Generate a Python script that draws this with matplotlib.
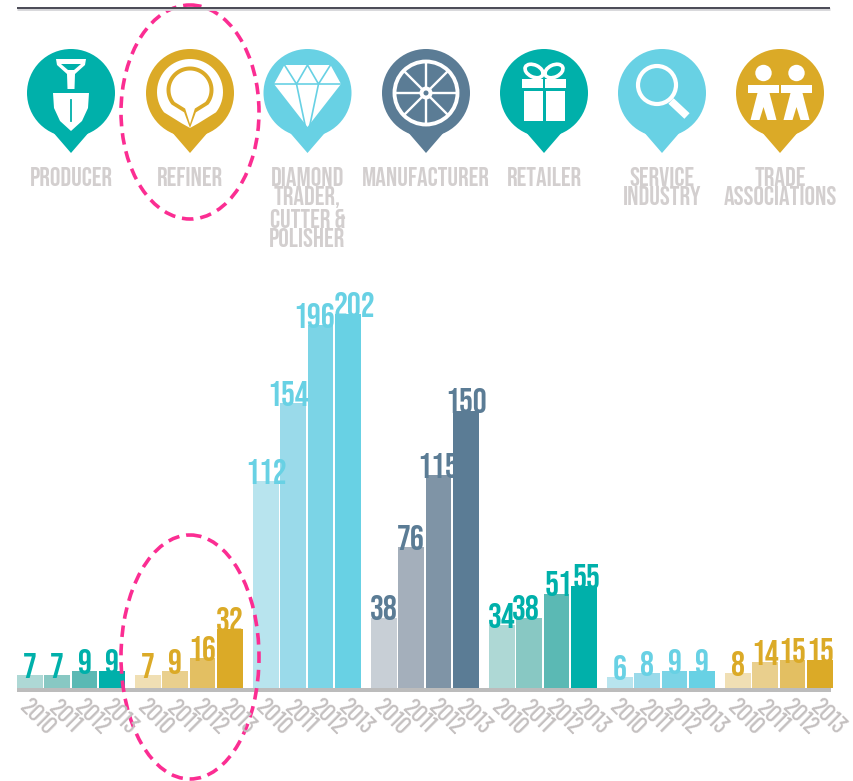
import numpy as np
import matplotlib
matplotlib.use('Agg')
import matplotlib.pyplot as plt
from matplotlib import font_manager as fm
from matplotlib.patches import Circle, Ellipse, Polygon, Rectangle

# pick condensed faces that exist here, DejaVu stays as last resort
installed = set(f.name for f in fm.fontManager.ttflist)
tall_font = [n for n in ['Bebas Neue', 'League Gothic', 'Sofia Sans Extra Condensed', 'Saira ExtraCondensed',
                         'Fira Sans Extra Condensed'] if n in installed] + ['DejaVu Sans']
year_font = [n for n in ['Barlow Condensed', 'Roboto Condensed'] if n in installed] + ['DejaVu Sans']
plt.rcParams['font.family'] = tall_font

years = ['2010', '2011', '2012', '2013']
group_names = ['PRODUCER', 'REFINER', 'DIAMOND\nTRADER,\nCUTTER &\nPOLISHER', 'MANUFACTURER',
               'RETAILER', 'SERVICE\nINDUSTRY', 'TRADE\nASSOCIATIONS']
producer = [7, 7, 9, 9]
refiner = [7, 9, 16, 32]
diamond = [112, 154, 196, 202]
manufacturer = [38, 76, 115, 150]
retailer = [34, 38, 51, 55]
service = [6, 8, 9, 9]
trade = [8, 14, 15, 15]
all_values = [producer, refiner, diamond, manufacturer, retailer, service, trade]

teal = ['#aed8d5', '#88c8c3', '#5bb9b4', '#00b0aa']
gold = ['#f0dfb4', '#e9cf8d', '#e3bf62', '#dbaa27']
cyan = ['#b8e4ee', '#9adaea', '#7bd4e6', '#68d1e4']
slate = ['#c8cfd6', '#a4afbb', '#7f94a6', '#5b7c95']
shades = [teal, gold, cyan, slate, teal, cyan, gold]

W, H = 854, 781
base_y = 688       # pixel row of the bar baseline
px_per_unit = 1.85
pink = '#fb2d92'
label_grey = '#d3cfcf'

# labels that sit off centre in the original, (group, bar): pixels
nudge = {(2, 1): -5, (2, 2): -6, (2, 3): 7, (4, 1): -3, (4, 2): 2, (4, 3): 3}

fig = plt.figure(figsize=(W / 100, H / 100), dpi=100)

# bars live in their own axes, y in real units
ax = fig.add_axes([0, 1 - base_y / H, 1, base_y / H])
ax.set_xlim(0, W)
ax.set_ylim(0, base_y / px_per_unit)
ax.axis('off')

# everything else is placed in pixel coordinates
pa = fig.add_axes([0, 0, 1, 1], zorder=3)
pa.set_xlim(0, W)
pa.set_ylim(H, 0)
pa.axis('off')
pa.patch.set_alpha(0)

group_step = 118.0
bar_step = 27.35
bar_w = 25.6
first_x = 17

for g, values in enumerate(all_values):
    for i, v in enumerate(values):
        x = first_x + g * group_step + i * bar_step
        ax.bar(x, v, width=bar_w, align='edge', color=shades[g][i], linewidth=0)
        ax.text(x + bar_w / 2 + nudge.get((g, i), 0), v - 1.5, str(v), ha='center', va='bottom', fontsize=25,
                color=shades[g][-1])
        pa.text(x + 20, 717, years[i], rotation=-45, ha='center', va='center', fontsize=18,
                color='#c4c0c0', rotation_mode='anchor', family=year_font, weight='medium')

# baseline and top rule
pa.add_patch(Rectangle((17, 688), 814, 4, color='#bcbcbc', lw=0))
pa.plot([17, 830], [9, 9], color='#d5d5d8', lw=2, solid_capstyle='butt')
pa.plot([17, 830], [8, 8], color='#4a4a55', lw=1.4, solid_capstyle='butt')


def pin(cx, col):
    pa.add_patch(Circle((cx, 93), 44, color=col, lw=0))
    pa.add_patch(Polygon([(cx - 19, 131), (cx + 19, 131), (cx, 153)], color=col, lw=0))


def drop(cx, cy, r, tip, col):
    # round head with a pointed tail, made of arc samples
    a = np.radians(np.linspace(-128, 128, 50))
    verts = list(zip(cx + r * np.sin(a), cy - r * np.cos(a)))
    verts.append((cx + r * 0.25, cy + r * 0.95))
    verts.append((cx, tip))
    verts.append((cx - r * 0.25, cy + r * 0.95))
    pa.add_patch(Polygon(verts, closed=True, color=col, lw=0))


c_teal, c_gold, c_cyan, c_slate = teal[-1], gold[-1], cyan[-1], slate[-1]
icon_x = [71, 190, 307.5, 426, 544, 662, 780]
icon_col = [c_teal, c_gold, c_cyan, c_slate, c_teal, c_cyan, c_gold]
for cx, col in zip(icon_x, icon_col):
    pin(cx, col)

# shovel
cx = icon_x[0]
pa.add_patch(Polygon([(cx - 15, 59), (cx + 15, 59), (cx + 14, 65), (cx + 4, 74), (cx + 3.5, 89),
                      (cx - 3.5, 89), (cx - 4, 74), (cx - 14, 65)], color='white', lw=0))
pa.add_patch(Polygon([(cx - 10, 64), (cx + 10, 64), (cx + 3, 70), (cx - 3, 70)], color=c_teal, lw=0))
pa.add_patch(Polygon([(cx - 18, 93), (cx + 18, 93), (cx + 17, 108), (cx + 11, 121), (cx, 131),
                      (cx - 11, 121), (cx - 17, 108)], color='white', lw=0))
pa.plot([cx, cx], [100, 121], color=c_teal, lw=1.3)

# refiner ring
cx = icon_x[1]
drop(cx, 92, 33, 128, 'white')
drop(cx, 90, 23.5, 128, c_gold)
drop(cx, 90, 19.5, 124, 'white')

# diamond
cx = icon_x[2]
pa.add_patch(Polygon([(cx - 23, 65), (cx + 23, 65), (cx + 33.5, 84), (cx, 127), (cx - 33.5, 84)],
                     color='white', lw=0))
for seg in [[(cx - 33, 84), (cx + 33, 84)], [(cx - 23, 65), (cx - 11, 84), (cx, 65), (cx + 11, 84), (cx + 23, 65)],
            [(cx - 11, 84), (cx - 2, 127)], [(cx + 11, 84), (cx + 2, 127)]]:
    s = np.array(seg)
    pa.plot(s[:, 0], s[:, 1], color=c_cyan, lw=1.2)

# wheel
cx = icon_x[3]
pa.add_patch(Circle((cx, 93), 31.5, fill=False, ec='white', lw=2.8))
for deg in range(0, 360, 45):
    a = np.radians(deg)
    pa.plot([cx + 6 * np.cos(a), cx + 31 * np.cos(a)], [93 + 6 * np.sin(a), 93 + 31 * np.sin(a)],
            color='white', lw=1.7)
pa.add_patch(Circle((cx, 93), 6.5, color='white', lw=0))
pa.add_patch(Circle((cx, 93), 2.5, color=c_slate, lw=0))

# gift
cx = icon_x[4]
pa.add_patch(Rectangle((cx - 22, 79), 21, 9, color='white', lw=0))
pa.add_patch(Rectangle((cx + 1, 79), 21, 9, color='white', lw=0))
pa.add_patch(Rectangle((cx - 20, 91), 19, 30, color='white', lw=0))
pa.add_patch(Rectangle((cx + 2, 91), 19, 30, color='white', lw=0))
pa.add_patch(Ellipse((cx - 10, 71), 19, 12, angle=25, fill=False, ec='white', lw=2.6))
pa.add_patch(Ellipse((cx + 10, 71), 19, 12, angle=-25, fill=False, ec='white', lw=2.6))

# magnifier
cx = icon_x[5]
pa.add_patch(Circle((cx - 5, 85), 19, fill=False, ec='white', lw=3))
pa.plot([cx + 9, cx + 25], [101, 116], color='white', lw=5.5, solid_capstyle='butt')

# two people
cx = icon_x[6]
for dx in (-16.5, 16.5):
    px = cx + dx
    pa.add_patch(Circle((px, 73), 8.2, color='white', lw=0))
    pa.add_patch(Rectangle((px - 15.5, 85), 31, 8, color='white', lw=0))
    pa.add_patch(Polygon([(px - 6, 93), (px + 6, 93), (px + 13, 120), (px + 4, 120), (px, 107),
                          (px - 4, 120), (px - 13, 120)], color='white', lw=0))

# captions
for cx, name in zip(icon_x, group_names):
    pa.text(cx, 167, name, ha='center', va='top', fontsize=19, color=label_grey, linespacing=1.02)

# pink callouts
pa.add_patch(Ellipse((190, 112), 138, 214, fill=False, ec=pink, lw=2.6, ls=(0, (3.2, 1.9))))
pa.add_patch(Ellipse((190, 657), 138, 244, fill=False, ec=pink, lw=2.6, ls=(0, (3.2, 1.9))))

fig.savefig('out.png', dpi=100)
